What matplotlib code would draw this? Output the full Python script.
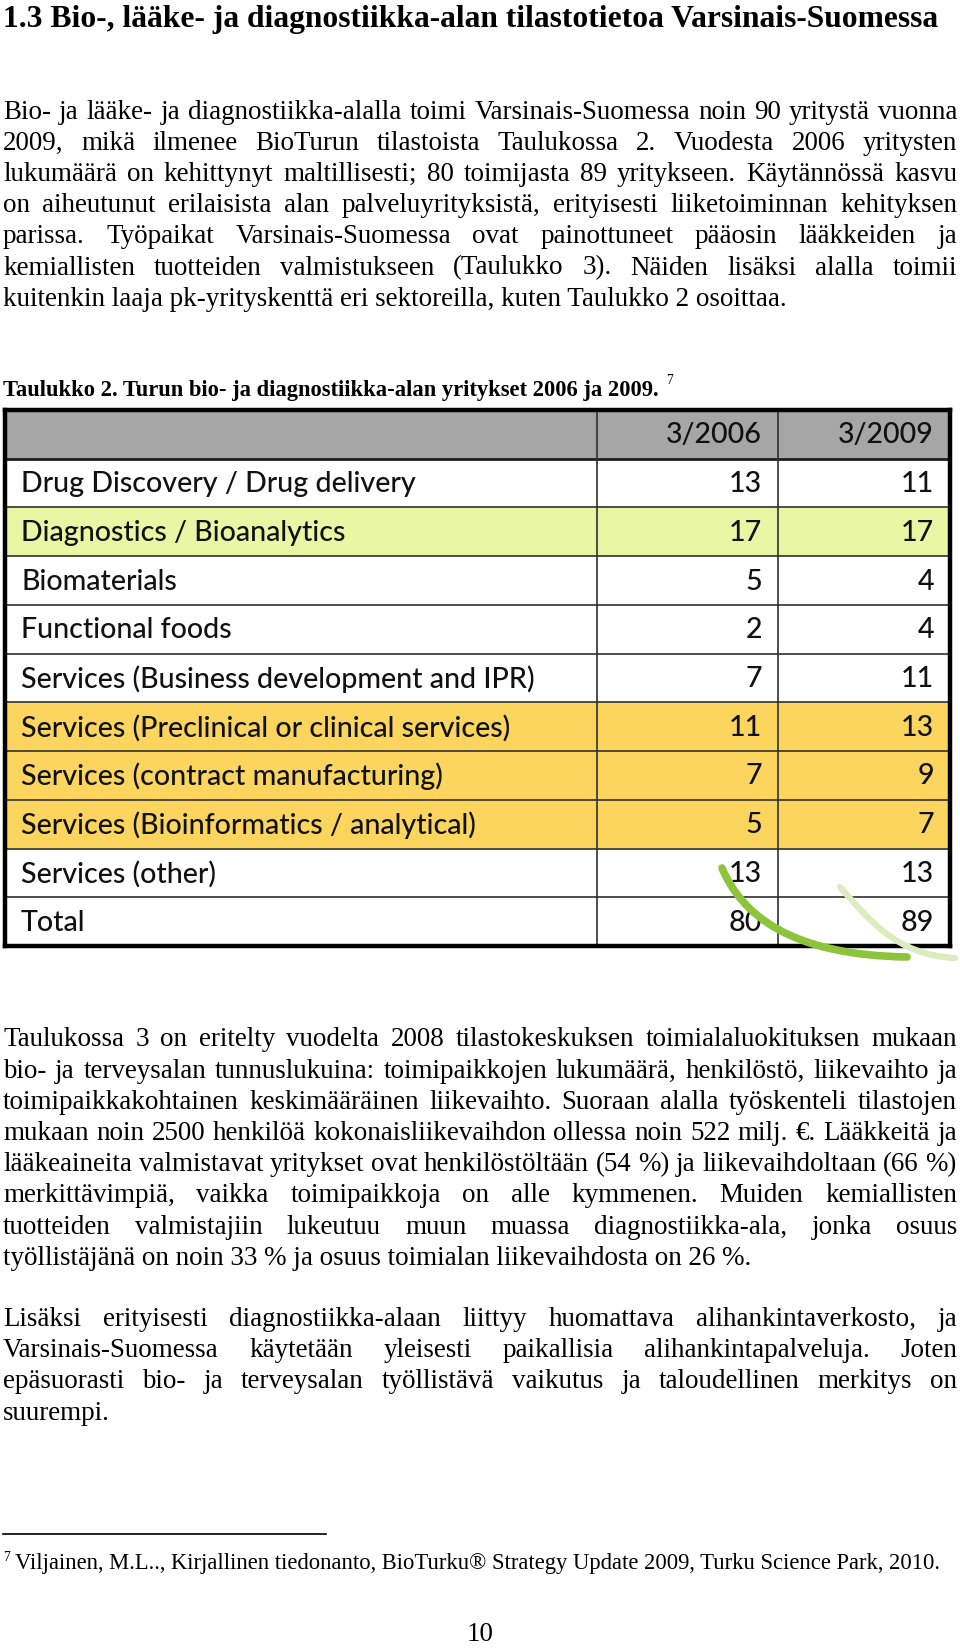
import numpy as np
import matplotlib
matplotlib.use("Agg")
from matplotlib import pyplot as plt
from matplotlib.path import Path
from matplotlib.patches import PathPatch

W, H = 960, 1648

# page text
title = "1.3 Bio-, lääke- ja diagnostiikka-alan tilastotietoa Varsinais-Suomessa"
para1 = [
    "Bio- ja lääke- ja diagnostiikka-alalla toimi Varsinais-Suomessa noin 90 yritystä vuonna",
    "2009, mikä ilmenee BioTurun tilastoista Taulukossa 2. Vuodesta 2006 yritysten",
    "lukumäärä on kehittynyt maltillisesti; 80 toimijasta 89 yritykseen. Käytännössä kasvu",
    "on aiheutunut erilaisista alan palveluyrityksistä, erityisesti liiketoiminnan kehityksen",
    "parissa. Työpaikat Varsinais-Suomessa ovat painottuneet pääosin lääkkeiden ja",
    "kemiallisten tuotteiden valmistukseen (Taulukko 3). Näiden lisäksi alalla toimii",
    "kuitenkin laaja pk-yrityskenttä eri sektoreilla, kuten Taulukko 2 osoittaa.",
]
caption = "Taulukko 2. Turun bio- ja diagnostiikka-alan yritykset 2006 ja 2009."
para2 = [
    "Taulukossa 3 on eritelty vuodelta 2008 tilastokeskuksen toimialaluokituksen mukaan",
    "bio- ja terveysalan tunnuslukuina: toimipaikkojen lukumäärä, henkilöstö, liikevaihto ja",
    "toimipaikkakohtainen keskimääräinen liikevaihto. Suoraan alalla työskenteli tilastojen",
    "mukaan noin 2500 henkilöä kokonaisliikevaihdon ollessa noin 522 milj. €. Lääkkeitä ja",
    "lääkeaineita valmistavat yritykset ovat henkilöstöltään (54 %) ja liikevaihdoltaan (66 %)",
    "merkittävimpiä, vaikka toimipaikkoja on alle kymmenen. Muiden kemiallisten",
    "tuotteiden valmistajiin lukeutuu muun muassa diagnostiikka-ala, jonka osuus",
    "työllistäjänä on noin 33 % ja osuus toimialan liikevaihdosta on 26 %.",
]
para3 = [
    "Lisäksi erityisesti diagnostiikka-alaan liittyy huomattava alihankintaverkosto, ja",
    "Varsinais-Suomessa käytetään yleisesti paikallisia alihankintapalveluja. Joten",
    "epäsuorasti bio- ja terveysalan työllistävä vaikutus ja taloudellinen merkitys on",
    "suurempi.",
]
footnote = "Viljainen, M.L.., Kirjallinen tiedonanto, BioTurku® Strategy Update 2009, Turku Science Park, 2010."
page_no = "10"

# table data
years = ["3/2006", "3/2009"]
categories = [
    "Drug Discovery / Drug delivery",
    "Diagnostics / Bioanalytics",
    "Biomaterials",
    "Functional foods",
    "Services (Business development and IPR)",
    "Services (Preclinical or clinical services)",
    "Services (contract manufacturing)",
    "Services (Bioinformatics / analytical)",
    "Services (other)",
]
firms_2006 = [13, 17, 5, 2, 7, 11, 7, 5, 13]
firms_2009 = [11, 17, 4, 4, 11, 13, 9, 7, 13]
highlight = ["", "green", "", "", "", "yellow", "yellow", "yellow", ""]

fill = {"": "white", "green": "#e9f6a4", "yellow": "#fbd55e"}

fig = plt.figure(figsize=(W / 100, H / 100), dpi=100)
fig.patch.set_facecolor("white")
renderer = fig.canvas.get_renderer()

page = fig.add_axes([0, 0, 1, 1], zorder=2)
page.set_xlim(0, W)
page.set_ylim(H, 0)
page.set_axis_off()

serif = "Liberation Serif"
sans = "Lato"


def width_of(s, size, **kw):
    t = page.text(0, 0, s, fontsize=size, **kw)
    w = t.get_window_extent(renderer).width
    t.remove()
    return w


def fit_size(s, target, **kw):
    return 10 * target / width_of(s, 10, **kw)


body = fit_size(para1[-1], 784, family=serif)


def justify(line, y, x0=3, x1=957):
    words = line.split(" ")
    widths = [width_of(w, body, family=serif) for w in words]
    gap = (x1 - x0 - sum(widths)) / (len(words) - 1)
    x = x0
    for w, wd in zip(words, widths):
        page.text(x, y, w, fontsize=body, family=serif, va="baseline")
        x += wd + gap


def paragraph(lines, y0, step=31.2):
    for i, line in enumerate(lines):
        y = y0 + i * step
        if i < len(lines) - 1:
            justify(line, y)
        else:
            page.text(3, y, line, fontsize=body, family=serif, va="baseline")


# heading
tsize = fit_size(title, 935, family=serif, weight="bold")
page.text(3, 27, title, fontsize=tsize, family=serif, weight="bold", va="baseline")

paragraph(para1, 118.5)

csize = fit_size(caption, 656, family=serif, weight="bold")
page.text(3, 396, caption, fontsize=csize, family=serif, weight="bold", va="baseline")
page.text(666, 384, "7", fontsize=csize * 0.6, family=serif, va="baseline")

paragraph(para2, 1046.5)
paragraph(para3, 1326)

# footnote
page.plot([3, 326], [1534, 1534], color="black", lw=1.2)
fsize = fit_size(footnote, 924, family=serif)
page.text(3, 1561, "7", fontsize=fsize * 0.6, family=serif, va="baseline")
page.text(15, 1569, footnote, fontsize=fsize, family=serif, va="baseline")
page.text(480, 1641, page_no, fontsize=body, family=serif, ha="center", va="baseline")

# table
n = len(categories) + 2
tw = 945
col_edges = [0, 592, 773, tw]
tab = fig.add_axes([5 / W, 1 - 946 / H, tw / W, 536 / H], zorder=1)
tab.set_xlim(0, tw)
tab.set_ylim(n, 0)

row_colors = ["#a6a6a6"] + [fill[h] for h in highlight] + ["white"]
tab.barh(np.arange(n), tw, left=0, height=1, align="edge", color=row_colors)
tab.hlines(np.arange(2, n), 0, tw, color="#303030", lw=1.2)
tab.hlines([1], 0, tw, color="#202020", lw=2.0)
tab.vlines(col_edges[1:3], 0, n, color="#303030", lw=1.2)
tab.set_xticks([])
tab.set_yticks([])
for sp in tab.spines.values():
    sp.set_linewidth(3.2)
    sp.set_color("black")

labels = categories + ["Total"]
v06 = firms_2006 + [sum(firms_2006)]
v09 = firms_2009 + [sum(firms_2009)]
tkw = dict(family=sans, weight="medium", color="#111111")
ssize = fit_size(categories[0], 397, **tkw)
for j, yr in enumerate(years):
    tab.text(col_edges[j + 2] - 16, 0.52, yr, fontsize=ssize, ha="right", va="center", **tkw)
for i, (lab, a, b) in enumerate(zip(labels, v06, v09)):
    y = i + 1.52
    tab.text(16, y, lab, fontsize=ssize, va="center", **tkw)
    tab.text(col_edges[2] - 16, y, str(a), fontsize=ssize, ha="right", va="center", **tkw)
    tab.text(col_edges[3] - 16, y, str(b), fontsize=ssize, ha="right", va="center", **tkw)

# green logo swoosh over the table corner
dark = Path([(722, 868), (742, 915), (790, 955), (907, 957)],
            [Path.MOVETO, Path.CURVE4, Path.CURVE4, Path.CURVE4])
light = Path([(840, 887), (868, 918), (895, 955), (955, 958)],
             [Path.MOVETO, Path.CURVE4, Path.CURVE4, Path.CURVE4])
page.add_patch(PathPatch(dark, fill=False, edgecolor="#8cc43c", lw=5.5, capstyle="round"))
page.add_patch(PathPatch(light, fill=False, edgecolor="#dcecbf", lw=4.5, capstyle="round"))

fig.savefig("out.png", dpi=100, facecolor="white")
